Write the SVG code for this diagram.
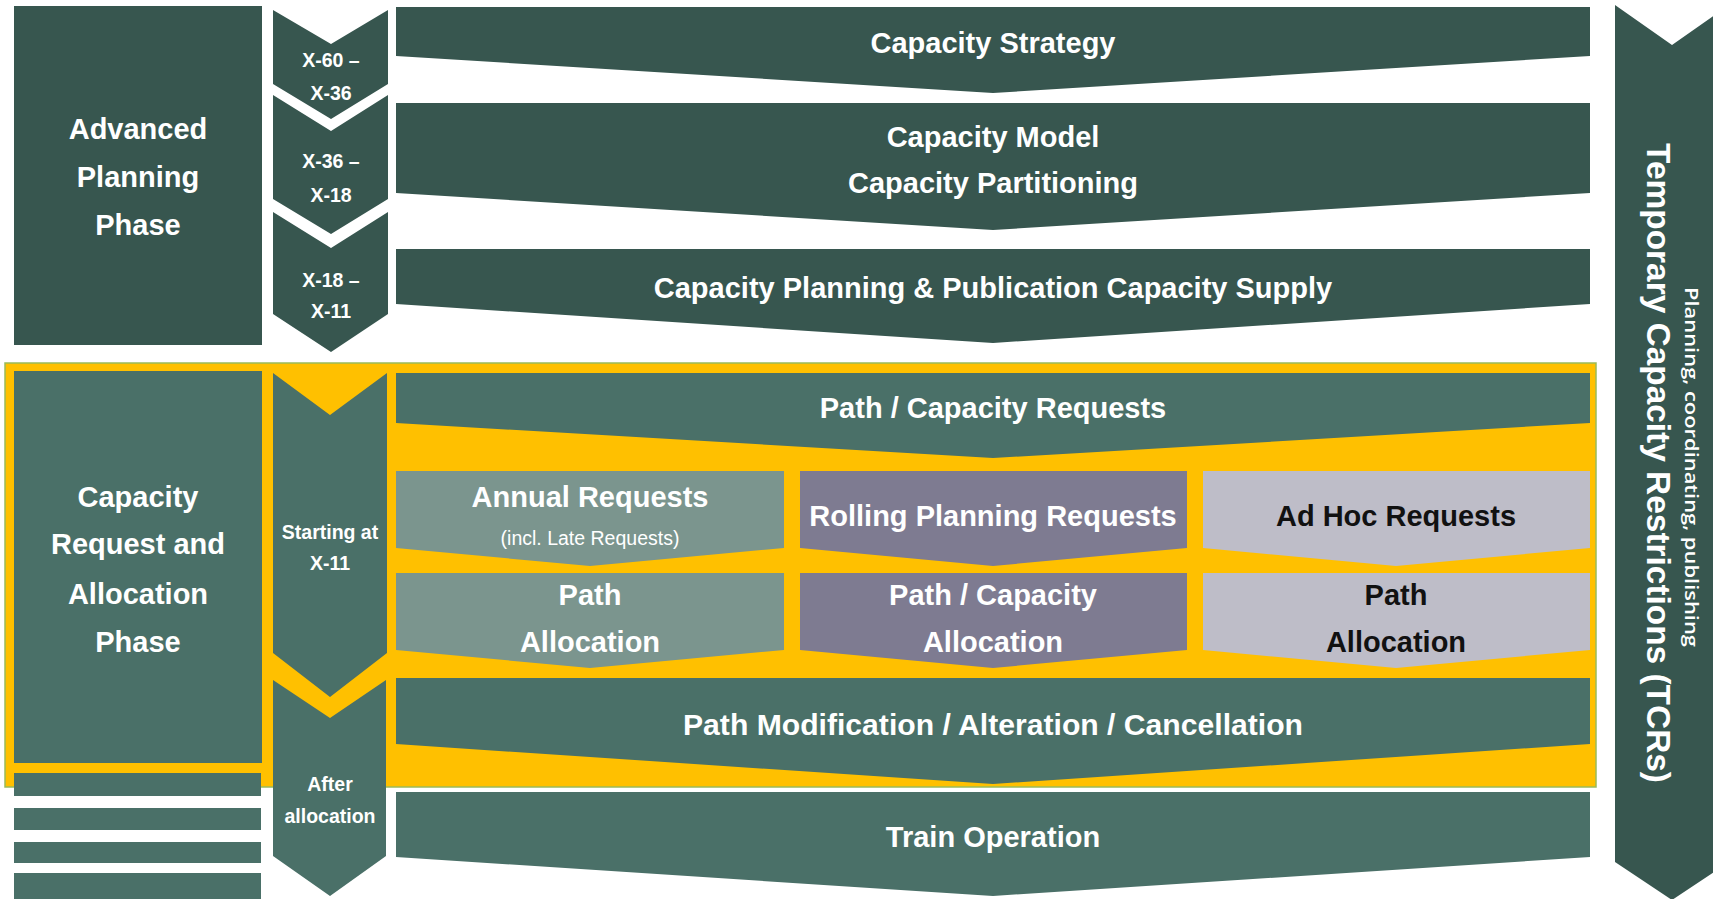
<svg xmlns="http://www.w3.org/2000/svg" width="1713" height="899" viewBox="0 0 1713 899">
<style>
.dk{fill:#37564F}
.md{fill:#4A7068}
.an{fill:#7B958E}
.rl{fill:#7E7B91}
.ah{fill:#BEBDC8}
.t{font-family:"Liberation Sans",Arial,sans-serif;font-weight:bold;fill:#fff;text-anchor:middle}
.b{font-size:29px}
.s{font-size:19.5px}
.k{fill:#111}
</style>
<rect width="1713" height="899" fill="#fff"/>

<g id="tcr">
<polygon class="dk" points="1615,5 1672,45 1729,5 1729,862 1672,900 1615,862"/>
<text class="t" font-size="33" transform="translate(1647,463) rotate(90)" textLength="640" lengthAdjust="spacingAndGlyphs">Temporary Capacity Restrictions (TCRs)</text>
<text class="t" style="font-family:'Open Sans','Liberation Sans',sans-serif;font-weight:600" font-size="18.5" transform="translate(1685,467) rotate(90)" textLength="360" lengthAdjust="spacingAndGlyphs">Planning, coordinating, publishing</text>
</g>

<g id="advanced-planning-phase">
<rect class="dk" x="14" y="6" width="248" height="339"/>
<text class="t b" x="138" y="139">Advanced</text>
<text class="t b" x="138" y="187">Planning</text>
<text class="t b" x="138" y="235">Phase</text>
</g>

<g id="chev-x60">
<polygon class="dk" points="273,10 331,44 388,10 388,84 331,119 273,84"/>
<text class="t s" x="331" y="67">X-60 –</text>
<text class="t s" x="331" y="100">X-36</text>
</g>
<g id="chev-x36">
<polygon class="dk" points="273,95 331,131 388,95 388,199 331,234 273,199"/>
<text class="t s" x="331" y="168">X-36 –</text>
<text class="t s" x="331" y="202">X-18</text>
</g>
<g id="chev-x18">
<polygon class="dk" points="273,212 331,248 388,212 388,314 331,352 273,314"/>
<text class="t s" x="331" y="287">X-18 –</text>
<text class="t s" x="331" y="318">X-11</text>
</g>

<g id="capacity-strategy">
<polygon class="dk" points="396,7 1590,7 1590,56 993,93 396,56"/>
<text class="t b" x="993" y="53">Capacity Strategy</text>
</g>
<g id="capacity-model">
<polygon class="dk" points="396,103 1590,103 1590,193 993,230 396,193"/>
<text class="t b" x="993" y="147">Capacity Model</text>
<text class="t b" x="993" y="193">Capacity Partitioning</text>
</g>
<g id="capacity-planning">
<polygon class="dk" points="396,249 1590,249 1590,304 993,343 396,304"/>
<text class="t b" x="993" y="298">Capacity Planning &amp; Publication Capacity Supply</text>
</g>

<g id="allocation-region">
<rect x="5" y="363" width="1591" height="424" fill="#FFC000" stroke="#9BBB59" stroke-width="1.5"/>
</g>

<g id="capacity-request-phase">
<rect class="md" x="14" y="371" width="248" height="392"/>
<text class="t b" x="138" y="507">Capacity</text>
<text class="t b" x="138" y="554">Request and</text>
<text class="t b" x="138" y="604">Allocation</text>
<text class="t b" x="138" y="652">Phase</text>
</g>

<g id="chev-starting">
<polygon class="md" points="273,373 330,415 387,373 387,653 330,697 273,653"/>
<text class="t s" x="330" y="539">Starting at</text>
<text class="t s" x="330" y="570">X-11</text>
</g>

<g id="path-capacity-requests">
<polygon class="md" points="396,373 1590,373 1590,423 993,458 396,423"/>
<text class="t b" x="993" y="418">Path / Capacity Requests</text>
</g>

<g id="annual-requests">
<polygon class="an" points="396,471 784,471 784,548 590,566 396,548"/>
<text class="t b" x="590" y="507">Annual Requests</text>
<text class="t" x="590" y="545" font-size="19.5" style="font-weight:normal">(incl. Late Requests)</text>
</g>
<g id="rolling-requests">
<polygon class="rl" points="800,471 1187,471 1187,548 993,566 800,548"/>
<text class="t b" x="993" y="526">Rolling Planning Requests</text>
</g>
<g id="adhoc-requests">
<polygon class="ah" points="1203,471 1590,471 1590,548 1396,566 1203,548"/>
<text class="t b k" x="1396" y="526">Ad Hoc Requests</text>
</g>

<g id="annual-allocation">
<polygon class="an" points="396,573 784,573 784,650 590,668 396,650"/>
<text class="t b" x="590" y="605">Path</text>
<text class="t b" x="590" y="652">Allocation</text>
</g>
<g id="rolling-allocation">
<polygon class="rl" points="800,573 1187,573 1187,650 993,668 800,650"/>
<text class="t b" x="993" y="605">Path / Capacity</text>
<text class="t b" x="993" y="652">Allocation</text>
</g>
<g id="adhoc-allocation">
<polygon class="ah" points="1203,573 1590,573 1590,650 1396,668 1203,650"/>
<text class="t b k" x="1396" y="605">Path</text>
<text class="t b k" x="1396" y="652">Allocation</text>
</g>

<g id="path-modification">
<polygon class="md" points="396,678 1590,678 1590,744 993,784 396,744"/>
<text class="t b" x="993" y="735" textLength="620" lengthAdjust="spacingAndGlyphs">Path Modification / Alteration / Cancellation</text>
</g>

<g id="bars">
<rect class="md" x="14" y="773" width="247" height="23"/>
<rect class="md" x="14" y="808" width="247" height="22"/>
<rect class="md" x="14" y="842" width="247" height="21"/>
<rect class="md" x="14" y="873" width="247" height="26"/>
</g>

<g id="chev-after">
<polygon class="md" points="273,680 330,718 386,680 386,856 330,896 273,856"/>
<text class="t s" x="330" y="791">After</text>
<text class="t s" x="330" y="823">allocation</text>
</g>

<g id="train-operation">
<polygon class="md" points="396,792 1590,792 1590,857 993,896 396,857"/>
<text class="t b" x="993" y="847">Train Operation</text>
</g>
</svg>
